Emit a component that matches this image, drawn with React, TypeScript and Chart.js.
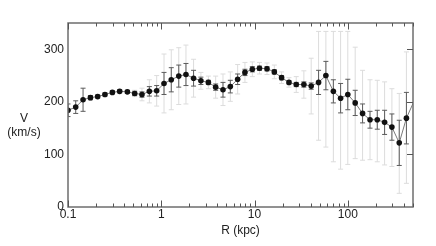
import React, { useEffect, useRef } from "react";
import { Chart, registerables } from "chart.js";

Chart.register(...registerables);

// Galactocentric radius (kpc)
const radius = [
  0.1, 0.121, 0.145, 0.174, 0.208, 0.249, 0.299, 0.358, 0.433, 0.519,
  0.621, 0.745, 0.893, 1.07, 1.28, 1.54, 1.84, 2.22, 2.66, 3.2,
  3.83, 4.59, 5.5, 6.59, 7.89, 9.47, 11.3, 13.6, 16.3, 19.5,
  23.4, 28.0, 33.8, 40.5, 48.6, 58.2, 70.0, 83.7, 100, 120,
  144, 173, 207, 248, 297, 356, 425, 515,
];
// Rotation velocity (km/s)
const velocity = [
  184, 190, 204, 208, 210, 214, 218, 220, 219, 216,
  214, 220, 221, 235, 242, 249, 252, 245, 240, 237,
  228, 223, 229, 243, 256, 262, 264, 263, 257, 246,
  237, 233, 233, 230, 237, 250, 220, 207, 214, 198,
  178, 166, 166, 161, 152, 122, 169, 202,
];
// Inner (dark) error, symmetric
const darkErr = [
  12, 12, 22, 4, 3, 3, 3, 3, 3, 4,
  5, 9, 10, 21, 23, 21, 21, 15, 7, 4,
  6, 14, 12, 10, 6, 5, 4, 4, 4, 4,
  3, 4, 5, 6, 23, 27, 22, 28, 29, 24,
  18, 16, 18, 23, 25, 43, 49, 0,
];
// Outer (light) error, lower and upper
const lightMinus = [
  0, 0, 0, 0, 0, 0, 0, 0, 0, 6,
  12, 22, 29, 56, 57, 54, 56, 36, 16, 12,
  21, 30, 28, 28, 19, 14, 11, 11, 13, 11,
  9, 15, 26, 53, 110, 136, 134, 135, 133, 106,
  89, 76, 80, 81, 75, 96, 124, 0,
];
const lightPlus = [
  0, 0, 0, 0, 0, 0, 0, 0, 0, 6,
  12, 22, 29, 56, 57, 54, 56, 36, 16, 12,
  21, 30, 28, 28, 19, 14, 11, 11, 13, 11,
  9, 15, 26, 53, 97, 84, 114, 127, 120, 106,
  82, 76, 75, 77, 73, 94, 126, 0,
];

const xLabelTicks = [0.1, 1, 10, 100];
const yLabelTicks = [0, 100, 200, 300];
const xMin = 0.1;
const xMax = 500;
const yMin = 0;
const yMax = 350;

const FONT = "'Liberation Sans', Arial, Helvetica, sans-serif";

const errorBarPlugin = {
  id: "errorBars",
  beforeDatasetsDraw(chart: any) {
    const { ctx, chartArea, scales } = chart;
    const xs = scales.x;
    const ys = scales.y;
    ctx.save();
    ctx.beginPath();
    ctx.rect(chartArea.left, chartArea.top, chartArea.right - chartArea.left, chartArea.bottom - chartArea.top);
    ctx.clip();
    const cap = 2.5;
    const drawBar = (x: number, lo: number, hi: number) => {
      const y1 = ys.getPixelForValue(lo);
      const y2 = ys.getPixelForValue(hi);
      ctx.beginPath();
      ctx.moveTo(x, y1);
      ctx.lineTo(x, y2);
      ctx.moveTo(x - cap, y1);
      ctx.lineTo(x + cap, y1);
      ctx.moveTo(x - cap, y2);
      ctx.lineTo(x + cap, y2);
      ctx.stroke();
    };
    ctx.lineWidth = 1;
    ctx.strokeStyle = "#dcdcdc";
    radius.forEach((r, i) => {
      if (lightMinus[i] === 0 && lightPlus[i] === 0) return;
      const x = xs.getPixelForValue(r);
      drawBar(x, velocity[i] - lightMinus[i], velocity[i] + lightPlus[i]);
    });
    ctx.strokeStyle = "#5c5c5c";
    radius.forEach((r, i) => {
      if (darkErr[i] === 0) return;
      const x = xs.getPixelForValue(r);
      drawBar(x, velocity[i] - darkErr[i], velocity[i] + darkErr[i]);
    });
    ctx.restore();
  },
};

const framePlugin = {
  id: "frame",
  afterDraw(chart: any) {
    const { ctx, chartArea, scales } = chart;
    const { left, right, top, bottom } = chartArea;
    const xs = scales.x;
    const ys = scales.y;
    ctx.save();
    ctx.strokeStyle = "#6e6e6e";
    ctx.lineWidth = 1.5;
    ctx.strokeRect(left, top, right - left, bottom - top);
    ctx.lineWidth = 1;
    ctx.strokeStyle = "#555";
    ctx.beginPath();
    for (let e = -1; e <= 2; e++) {
      for (let d = 1; d <= 9; d++) {
        const v = d * Math.pow(10, e);
        if (v < xMin || v > xMax) continue;
        const x = Math.round(xs.getPixelForValue(v)) + 0.5;
        const len = d === 1 ? 6.5 : 3.5;
        ctx.moveTo(x, bottom);
        ctx.lineTo(x, bottom - len);
        ctx.moveTo(x, top);
        ctx.lineTo(x, top + len);
      }
    }
    yLabelTicks.forEach((v) => {
      if (v <= yMin) return;
      const y = Math.round(ys.getPixelForValue(v)) + 0.5;
      ctx.moveTo(right, y);
      ctx.lineTo(right - 6, y);
    });
    ctx.stroke();

    ctx.fillStyle = "#222";
    ctx.font = `12px ${FONT}`;
    ctx.textAlign = "center";
    ctx.textBaseline = "middle";
    ctx.fillText("V", 24, 119);
    ctx.fillText("(km/s)", 24, 133);
    ctx.restore();
  },
};

export default function App() {
  const canvasRef = useRef<HTMLCanvasElement | null>(null);

  useEffect(() => {
    const canvas = canvasRef.current;
    if (!canvas) return;
    const points = radius.map((r, i) => ({ x: r, y: velocity[i] }));
    const chart = new Chart(canvas, {
      type: "line",
      data: {
        datasets: [
          {
            data: points,
            borderColor: "#7a7a7a",
            borderWidth: 1,
            backgroundColor: "#111",
            pointBackgroundColor: "#111",
            pointBorderWidth: 0,
            pointRadius: (c: any) => (radius[c.dataIndex] > xMax ? 0 : 2.8),
            tension: 0,
          },
        ],
      },
      options: {
        responsive: false,
        animation: false,
        events: [],
        layout: { padding: { top: 23, right: 23, left: 0, bottom: 0 } },
        plugins: { legend: { display: false }, tooltip: { enabled: false } },
        scales: {
          x: {
            type: "logarithmic",
            min: xMin,
            max: xMax,
            grid: { display: false, drawTicks: false },
            border: { display: false },
            afterBuildTicks: (s: any) => {
              s.ticks = xLabelTicks.map((v) => ({ value: v }));
            },
            afterFit: (s: any) => {
              s.height = 39;
            },
            ticks: {
              autoSkip: false,
              maxRotation: 0,
              padding: 0,
              color: "#222",
              font: { family: FONT, size: 12 },
              callback: (v: any) => String(v),
            },
            title: {
              display: true,
              text: "R (kpc)",
              color: "#222",
              font: { family: FONT, size: 12 },
              padding: { top: 0, bottom: 8 },
            },
          },
          y: {
            type: "linear",
            min: yMin,
            max: yMax,
            grid: { display: false, drawTicks: false },
            border: { display: false },
            afterBuildTicks: (s: any) => {
              s.ticks = yLabelTicks.map((v) => ({ value: v }));
            },
            afterFit: (s: any) => {
              s.width = 68;
            },
            ticks: {
              padding: 4,
              color: "#222",
              font: { family: FONT, size: 12 },
            },
          },
        },
      },
      plugins: [errorBarPlugin, framePlugin],
    } as any);
    return () => chart.destroy();
  }, []);

  return (
    <div style={{ position: "absolute", left: 0, top: 0, width: 436, height: 246, background: "#fff" }}>
      <canvas ref={canvasRef} width={436} height={246} style={{ display: "block" }} />
    </div>
  );
}
